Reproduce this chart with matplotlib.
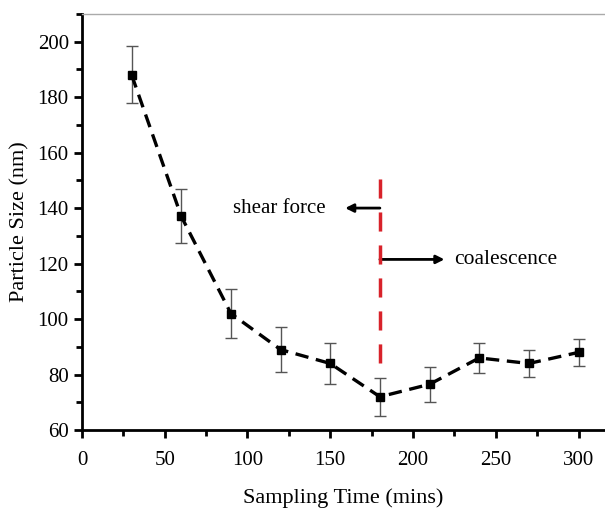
import numpy as np
import matplotlib.pyplot as plt

plt.rcParams['font.family'] = ['Liberation Serif', 'DejaVu Serif']

sampling_time = [30, 60, 90, 120, 150, 180, 210, 240, 270, 300]
particle_size = [188, 137, 102, 89, 84, 72, 76.5, 86, 84, 88]
size_error = [10.3, 9.7, 8.7, 8.0, 7.3, 6.8, 6.3, 5.5, 4.8, 4.8]

boundary_time = 180
boundary_range = [84, 151]

fig = plt.figure(figsize=(6.05, 5.12), dpi=100)
ax = fig.add_axes([0.1355, 0.16, 0.8645, 0.813])

ax.errorbar(sampling_time, particle_size, yerr=size_error, fmt='none',
            ecolor='#555555', elinewidth=1, capsize=4, capthick=1, zorder=2)
ax.plot(sampling_time, particle_size, color='black', lw=2.4, dashes=(4, 2.3),
        marker='s', markersize=6, zorder=3)

ax.plot([boundary_time, boundary_time], boundary_range, color='#d8222a',
        lw=2.5, dashes=(5.5, 4), zorder=4)

ax.annotate('', xy=(159, 140), xytext=(boundary_time, 140),
            arrowprops=dict(arrowstyle='-|>', color='black', lw=2,
                            mutation_scale=12, shrinkA=0, shrinkB=0))
ax.text(147, 140, 'shear force', ha='right', va='center', fontsize=15)
ax.annotate('', xy=(219, 121.5), xytext=(boundary_time, 121.5),
            arrowprops=dict(arrowstyle='-|>', color='black', lw=2,
                            mutation_scale=12, shrinkA=0, shrinkB=0))
ax.text(225, 121.5, 'coalescence', ha='left', va='center', fontsize=15.5)

ax.set_xlim(0, 316)
ax.set_ylim(60, 210)
ax.set_xticks(np.arange(0, 301, 50))
ax.set_xticks(np.arange(25, 301, 50), minor=True)
ax.set_yticks(np.arange(60, 201, 20))
ax.set_yticks(np.arange(70, 211, 20), minor=True)
ax.tick_params(which='major', direction='out', length=6, width=2, labelsize=15)
ax.tick_params(which='minor', direction='out', length=4, width=2)
ax.tick_params(axis='x', which='major', pad=9)

ax.spines['left'].set_linewidth(2)
ax.spines['bottom'].set_linewidth(2)
ax.spines['top'].set_color('#aaaaaa')
ax.spines['top'].set_linewidth(1)
ax.spines['right'].set_visible(False)

ax.set_xlabel('Sampling Time (mins)', fontsize=16, labelpad=13)
ax.set_ylabel('Particle Size (nm)', fontsize=16, labelpad=6)

fig.savefig('out.png', dpi=100)
